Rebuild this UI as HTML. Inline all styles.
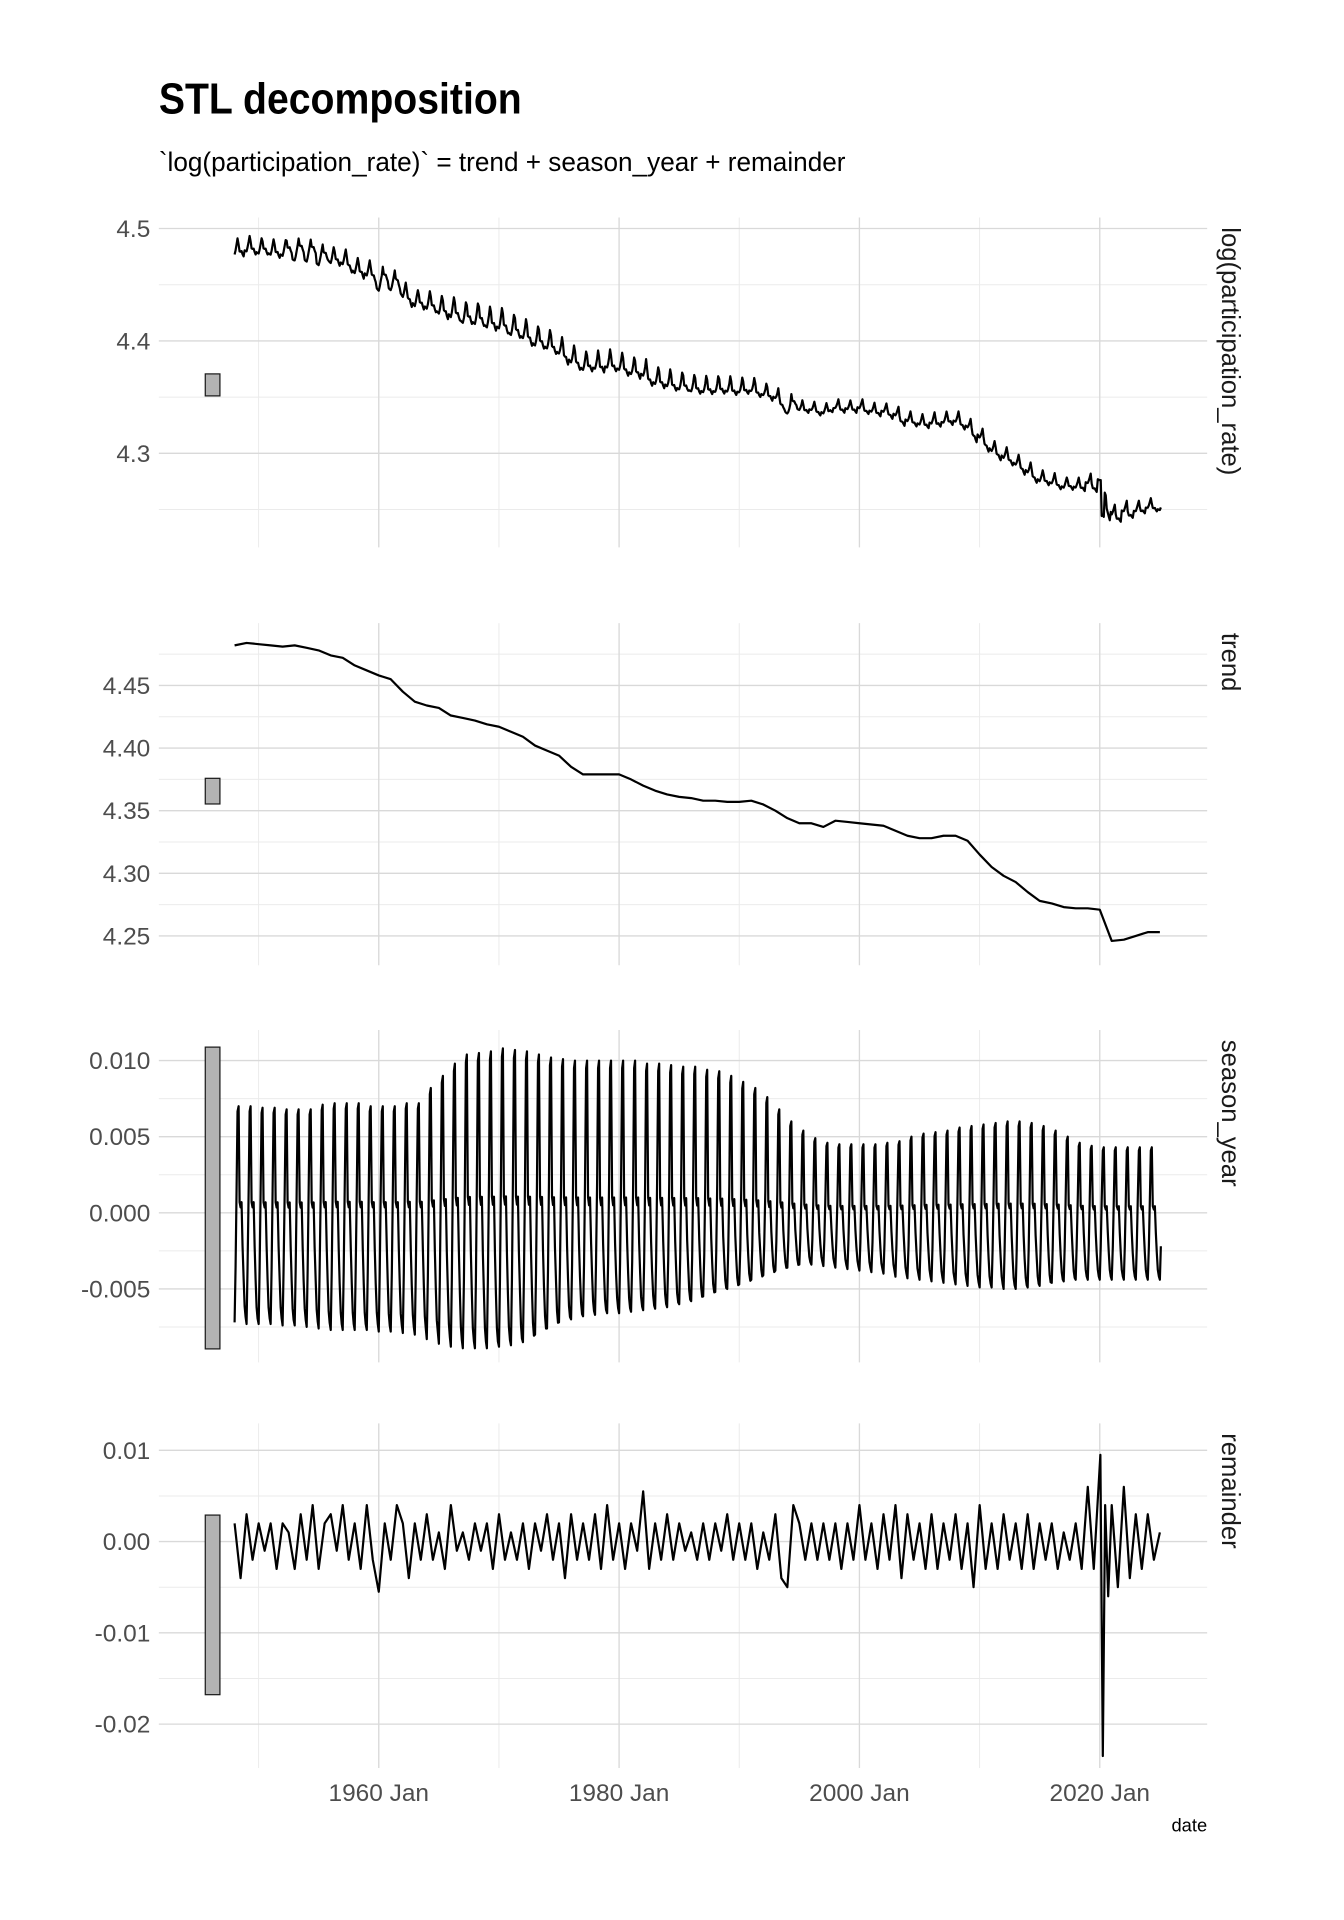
<!DOCTYPE html>
<html><head><meta charset="utf-8"><style>
html,body{margin:0;padding:0;background:#fff}
svg{display:block}
text{font-family:"Liberation Sans",sans-serif}
</style></head><body>
<svg id="chart" width="1344" height="1920" viewBox="0 0 1100 1571.4" xmlns="http://www.w3.org/2000/svg">
<text x="130" y="93" font-size="36" font-weight="bold" fill="#000" textLength="297" lengthAdjust="spacingAndGlyphs">STL decomposition</text>
<text x="130" y="140" font-size="22" fill="#000" textLength="562" lengthAdjust="spacingAndGlyphs">`log(participation_rate)` = trend + season_year + remainder</text>
<g id="panels"></g>
</svg>
<script>
const years = [];for(let y=1948;y<=2025;y++)years.push(y);
const trendVals = [4.482,4.484,4.483,4.482,4.481,4.482,4.480,4.478,4.474,4.472,4.466,4.462,4.458,4.455,4.445,4.437,4.434,4.432,4.426,4.424,4.422,4.419,4.417,4.413,4.409,4.402,4.398,4.394,4.385,4.379,4.379,4.379,4.379,4.375,4.370,4.366,4.363,4.361,4.360,4.358,4.358,4.357,4.357,4.358,4.355,4.350,4.344,4.340,4.340,4.337,4.342,4.341,4.340,4.339,4.338,4.334,4.330,4.328,4.328,4.330,4.330,4.326,4.315,4.305,4.298,4.293,4.285,4.278,4.276,4.273,4.272,4.272,4.271,4.246,4.247,4.250,4.253,4.253];
const seasMax = [0.0070,0.0070,0.0069,0.0069,0.0068,0.0068,0.0068,0.0071,0.0072,0.0072,0.0072,0.0070,0.0070,0.0070,0.0072,0.0072,0.0082,0.0090,0.0098,0.0104,0.0105,0.0106,0.0108,0.0107,0.0106,0.0104,0.0102,0.0101,0.0100,0.0100,0.0100,0.0100,0.0100,0.0100,0.0098,0.0098,0.0097,0.0096,0.0096,0.0094,0.0093,0.0090,0.0086,0.0082,0.0076,0.0068,0.0060,0.0054,0.0049,0.0046,0.0045,0.0045,0.0045,0.0045,0.0046,0.0047,0.0050,0.0052,0.0053,0.0054,0.0056,0.0057,0.0058,0.0059,0.0060,0.0060,0.0059,0.0057,0.0054,0.0050,0.0046,0.0044,0.0043,0.0043,0.0043,0.0043,0.0043,0.0043];
const seasMin = [-0.0072,-0.0073,-0.0073,-0.0073,-0.0074,-0.0074,-0.0075,-0.0076,-0.0077,-0.0077,-0.0077,-0.0077,-0.0078,-0.0078,-0.0079,-0.0080,-0.0083,-0.0086,-0.0088,-0.0089,-0.0089,-0.0089,-0.0088,-0.0087,-0.0085,-0.0080,-0.0076,-0.0072,-0.0070,-0.0068,-0.0067,-0.0066,-0.0066,-0.0065,-0.0064,-0.0063,-0.0062,-0.0060,-0.0058,-0.0055,-0.0052,-0.0050,-0.0047,-0.0044,-0.0041,-0.0038,-0.0036,-0.0034,-0.0034,-0.0035,-0.0036,-0.0037,-0.0038,-0.0039,-0.0040,-0.0042,-0.0043,-0.0044,-0.0045,-0.0046,-0.0047,-0.0048,-0.0049,-0.0049,-0.0050,-0.0050,-0.0049,-0.0048,-0.0046,-0.0045,-0.0044,-0.0044,-0.0044,-0.0044,-0.0044,-0.0044,-0.0044,-0.0044];
const seasShape = [-1.0,-0.5,0.2,0.95,1.0,0.1,0.05,0.1,-0.3,-0.6,-0.85,-0.95];
const remHalfYear = [0.002,-0.004,0.003,-0.002,0.002,-0.001,0.002,-0.003,0.002,0.001,-0.003,0.003,-0.002,0.004,-0.003,0.002,0.003,-0.001,0.004,-0.002,0.002,-0.003,0.004,-0.002,-0.0055,0.002,-0.002,0.004,0.002,-0.004,0.002,-0.002,0.003,-0.002,0.001,-0.003,0.004,-0.001,0.001,-0.002,0.002,-0.001,0.002,-0.003,0.003,-0.002,0.001,-0.002,0.002,-0.003,0.002,-0.001,0.003,-0.002,0.002,-0.004,0.003,-0.002,0.002,-0.002,0.003,-0.003,0.004,-0.002,0.002,-0.003,0.002,-0.001,0.0055,-0.003,0.002,-0.002,0.003,-0.002,0.002,-0.001,0.001,-0.002,0.002,-0.002,0.002,-0.001,0.003,-0.002,0.002,-0.002,0.002,-0.003,0.001,-0.002,0.003,-0.004,-0.005,0.004,0.002,-0.002,0.002,-0.002,0.002,-0.002,0.002,-0.003,0.002,-0.002,0.004,-0.002,0.002,-0.003,0.003,-0.002,0.004,-0.004,0.003,-0.002,0.002,-0.003,0.003,-0.003,0.002,-0.002,0.003,-0.003,0.002,-0.005,0.004,-0.003,0.002,-0.003,0.003,-0.002,0.002,-0.003,0.003,-0.003,0.002,-0.002,0.002,-0.003,0.001,-0.002,0.002,-0.003,0.006,-0.003];
const remShockDates = [2020.05,2020.25,2020.45,2020.7,2021.0,2021.5,2022.0,2022.5,2023.0,2023.5,2024.0,2024.5,2025.0];
const remShockVals = [0.0095,-0.0235,0.004,-0.006,0.004,-0.005,0.006,-0.004,0.003,-0.003,0.003,-0.002,0.001];
const xTickYears = [1960,1980,2000,2020];
const xTickLabels = ["1960 Jan","1980 Jan","2000 Jan","2020 Jan"];

const NS="http://www.w3.org/2000/svg";
const root=document.getElementById('panels');
const X0=130,X1=988;
const xs=t=>310+(t-1960)*196.7/20;
function el(tag,attrs,parent){const e=document.createElementNS(NS,tag);for(const k in attrs)e.setAttribute(k,attrs[k]);(parent||root).appendChild(e);return e;}

// remainder series
const remT=[],remV=[];
remHalfYear.forEach((v,i)=>{const t=1948+i*0.5;if(t<2020){remT.push(t);remV.push(v);}});
remShockDates.forEach((t,i)=>{remT.push(t);remV.push(remShockVals[i]);});
function remAt(t){let best=0;for(let i=0;i<remT.length;i++){if(Math.abs(remT[i]-t)<Math.abs(remT[best]-t))best=i;}return remV[best];}
function trendAt(t){const f=t-1948;const i=Math.max(0,Math.min(trendVals.length-2,Math.floor(f)));const r=Math.min(1,f-i);return trendVals[i]*(1-r)+trendVals[i+1]*r;}
function seasAt(yi,m){const s=seasShape[m];return s>=0?s*seasMax[yi]:-s*seasMin[yi];}

const months=[];
for(let yi=0;yi<years.length;yi++)for(let m=0;m<12;m++){const t=years[yi]+m/12;if(t<=2025.1)months.push({t,yi,m});}

const panels=[
 {name:'observed',label:'log(participation_rate)',top:178,bot:448,ref:4.5,refY:187,k:920,major:[4.3,4.4,4.5],minor:[4.25,4.35,4.45],fmt:v=>v.toFixed(1),bar:[306,324]},
 {name:'trend',label:'trend',top:510,bot:790,ref:4.45,refY:561,k:1025,major:[4.25,4.30,4.35,4.40,4.45],minor:[4.275,4.325,4.375,4.425,4.475],fmt:v=>v.toFixed(2),bar:[637,658]},
 {name:'season-year',label:'season_year',top:843,bot:1115,ref:0.010,refY:868,k:12460,major:[-0.005,0,0.005,0.010],minor:[-0.0075,-0.0025,0.0025,0.0075],fmt:v=>v.toFixed(3),bar:[857,1104]},
 {name:'remainder',label:'remainder',top:1165,bot:1447,ref:0.01,refY:1187,k:7470,major:[-0.02,-0.01,0,0.01],minor:[-0.025,-0.015,-0.005,0.005],fmt:v=>v.toFixed(2),bar:[1240,1387]}
];
panels.forEach(p=>{
 const g=el('g',{});
 
 
 const ys=v=>p.refY-(v-p.ref)*p.k;
 p.minor.forEach(v=>{const y=ys(v);if(y>=p.top&&y<=p.bot+1){const l=el('line',{x1:X0,x2:X1,y1:y,y2:y,stroke:'#ebebeb','stroke-width':0.8},g);}});
 [1950,1970,1990,2010].forEach(yr=>{const l=el('line',{x1:xs(yr),x2:xs(yr),y1:p.top,y2:p.bot,stroke:'#ebebeb','stroke-width':0.8},g);});
 p.major.forEach(v=>{const y=ys(v);const l=el('line',{x1:X0,x2:X1,y1:y,y2:y,stroke:'#d9d9d9','stroke-width':1.1},g);
  const tx=el('text',{x:123,y:y+7,'text-anchor':'end','font-size':20,fill:'#4d4d4d'},g);tx.textContent=p.fmt(v);});
 xTickYears.forEach(yr=>{const l=el('line',{x1:xs(yr),x2:xs(yr),y1:p.top,y2:p.bot,stroke:'#d9d9d9','stroke-width':1.1},g);});
 const b=el('rect',{x:168,y:p.bar[0],width:12,height:p.bar[1]-p.bar[0],fill:'#b3b3b3',stroke:'#1a1a1a','stroke-width':1},g);
 
 let pts=[];
 if(p.name==='observed') pts=months.map(o=>[o.t,trendAt(o.t)+seasAt(o.yi,o.m)+remAt(o.t)]);
 else if(p.name==='trend') pts=years.map((y,i)=>[y,trendVals[i]]);
 else if(p.name==='season-year') pts=months.map(o=>[o.t,seasAt(o.yi,o.m)]);
 else pts=remT.map((t,i)=>[t,remV[i]]);
 const d=pts.map((q,i)=>(i?'L':'M')+xs(q[0]).toFixed(1)+','+ys(q[1]).toFixed(1)).join('');
 const path=el('path',{d,fill:'none',stroke:'#000','stroke-width':1.8,'stroke-linejoin':'round'},g);
 
 const cy=p.top+8;
 const st=el('text',{x:0,y:0,'font-size':21,fill:'#1a1a1a',transform:`translate(1000,${cy}) rotate(90)`},g);
 st.textContent=p.label;
});
xTickYears.forEach((yr,i)=>{const t=el('text',{x:xs(yr),y:1474,'text-anchor':'middle','font-size':20,fill:'#4d4d4d'});t.textContent=xTickLabels[i];});
const dl=el('text',{x:988,y:1499,'text-anchor':'end','font-size':15,fill:'#000'});dl.textContent='date';


</script>
</body></html>
